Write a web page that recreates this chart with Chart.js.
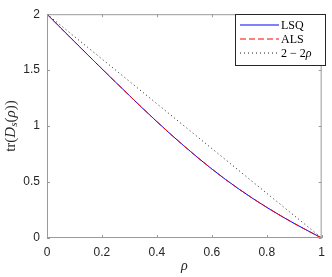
<!DOCTYPE html>
<html>
<head>
<meta charset="utf-8">
<script src="https://cdn.jsdelivr.net/npm/chart.js@4/dist/chart.umd.min.js"></script>
<style>
  html, body { margin: 0; padding: 0; background: #fff; }
  #wrap { width: 332px; height: 277px; }
</style>
</head>
<body>
<div id="wrap"><canvas id="myChart" width="332" height="277"></canvas></div>
<script>
// values
var rho = [0, 0.05, 0.1, 0.15, 0.2, 0.25, 0.3, 0.35, 0.4, 0.45, 0.5,
           0.55, 0.6, 0.65, 0.7, 0.75, 0.8, 0.85, 0.9, 0.95, 1];
var lsq = [2, 1.877, 1.755, 1.633, 1.512, 1.392, 1.273, 1.155, 1.04, 0.928, 0.82,
           0.716, 0.617, 0.523, 0.435, 0.352, 0.274, 0.2, 0.13, 0.064, 0];
var als = [2, 1.877, 1.755, 1.633, 1.512, 1.392, 1.273, 1.155, 1.04, 0.928, 0.82,
           0.716, 0.617, 0.523, 0.435, 0.352, 0.274, 0.2, 0.13, 0.064, 0];
var lineX = [0, 1];
var lineY = [2, 0];
var xTicks = [0, 0.2, 0.4, 0.6, 0.8, 1];
var yTicks = [0, 0.5, 1, 1.5, 2];

var colors = ['#0000ff', '#ff0000', '#222222'];
var dashes = [[], [6, 3], [1, 3]];
var axisColor = '#9a9a9a';
var textColor = '#262626';
var serif = '"Liberation Serif", "DejaVu Serif", serif';

function pts(xs, ys) {
    return xs.map(function(x, i) { return {x: x, y: ys[i]}; });
}

// box, inward ticks, legend and axis titles
var decor = {
    id: 'decor',
    afterDraw: function(chart) {
        var ctx = chart.ctx;
        var a = chart.chartArea;
        var xs = chart.scales.x, ys = chart.scales.y;
        ctx.save();
        ctx.strokeStyle = axisColor;
        ctx.lineWidth = 1;
        ctx.beginPath();
        ctx.moveTo(a.left, a.top + 0.5); ctx.lineTo(a.right, a.top + 0.5);
        ctx.moveTo(a.right - 0.5, a.top); ctx.lineTo(a.right - 0.5, a.bottom);
        ctx.moveTo(a.left + 0.5, a.top); ctx.lineTo(a.left + 0.5, a.bottom);
        ctx.moveTo(a.left, a.bottom - 0.5); ctx.lineTo(a.right, a.bottom - 0.5);
        xTicks.forEach(function(v) {
            var px = Math.round(xs.getPixelForValue(v)) + 0.5;
            ctx.moveTo(px, a.bottom); ctx.lineTo(px, a.bottom - 3);
            ctx.moveTo(px, a.top); ctx.lineTo(px, a.top + 3);
        });
        yTicks.forEach(function(v) {
            var py = Math.round(ys.getPixelForValue(v)) + 0.5;
            ctx.moveTo(a.left, py); ctx.lineTo(a.left + 3, py);
            ctx.moveTo(a.right, py); ctx.lineTo(a.right - 3, py);
        });
        ctx.stroke();

        // legend
        var lx = 235.5, ly = 14.5, lw = 90, lh = 51;
        ctx.fillStyle = '#fff';
        ctx.fillRect(lx, ly, lw, lh);
        ctx.strokeStyle = textColor;
        ctx.strokeRect(lx, ly, lw, lh);
        var rows = [25, 39, 53];
        rows.forEach(function(r, i) {
            ctx.strokeStyle = colors[i];
            ctx.lineWidth = 1;
            ctx.setLineDash(dashes[i]);
            ctx.beginPath();
            ctx.moveTo(240, r); ctx.lineTo(279, r);
            ctx.stroke();
        });
        ctx.setLineDash([]);
        ctx.fillStyle = '#000';
        ctx.textBaseline = 'middle';
        ctx.textAlign = 'left';
        ctx.font = '12px ' + serif;
        ctx.fillText('LSQ', 281, rows[0] + 0.5);
        ctx.fillText('ALS', 281, rows[1] + 0.5);
        var t = '2 \u2212 2';
        ctx.fillText(t, 281, rows[2] + 0.5);
        var w = ctx.measureText(t).width;
        ctx.font = 'italic 12px ' + serif;
        ctx.fillText('\u03c1', 281 + w, rows[2] + 0.5);

        // x title
        ctx.fillStyle = textColor;
        ctx.font = 'italic 14px ' + serif;
        ctx.textAlign = 'center';
        ctx.fillText('\u03c1', (a.left + a.right) / 2, 266);

        // y title: tr(D_s(rho))
        ctx.translate(11, (a.top + a.bottom) / 2);
        ctx.rotate(-Math.PI / 2);
        var parts = [
            {s: 'tr(', f: '15px ' + serif, dy: 0},
            {s: 'D', f: 'italic 15px ' + serif, dy: 0},
            {s: 's', f: 'italic 11px ' + serif, dy: 3},
            {s: '(', f: '15px ' + serif, dy: 0},
            {s: '\u03c1', f: 'italic 15px ' + serif, dy: 0},
            {s: '))', f: '15px ' + serif, dy: 0}
        ];
        var total = 0;
        parts.forEach(function(p) { ctx.font = p.f; total += ctx.measureText(p.s).width; });
        var cx = -total / 2;
        ctx.textAlign = 'left';
        parts.forEach(function(p) {
            ctx.font = p.f;
            ctx.fillText(p.s, cx, p.dy);
            cx += ctx.measureText(p.s).width;
        });
        ctx.restore();
    }
};

var config = {
    type: 'scatter',
    data: {
        datasets: [{
            label: 'LSQ',
            data: pts(rho, lsq),
            showLine: true,
            borderColor: colors[0],
            borderWidth: 1,
            pointRadius: 0,
            order: 1
        }, {
            label: 'ALS',
            data: pts(rho, als),
            showLine: true,
            borderColor: colors[1],
            borderWidth: 1,
            borderDash: dashes[1],
            pointRadius: 0,
            order: 0
        }, {
            label: '2-2rho',
            data: pts(lineX, lineY),
            showLine: true,
            borderColor: colors[2],
            borderWidth: 1,
            borderDash: dashes[2],
            pointRadius: 0,
            order: 2
        }]
    },
    options: {
        responsive: false,
        animation: false,
        layout: { padding: { top: 6, right: 3, left: 0, bottom: 0 } },
        plugins: { legend: { display: false }, tooltip: { enabled: false } },
        scales: {
            x: {
                type: 'linear', min: 0, max: 1,
                afterBuildTicks: function(s) { s.ticks = xTicks.map(function(v) { return {value: v}; }); },
                afterFit: function(s) { s.height = 39; },
                grid: { drawOnChartArea: false, drawTicks: false },
                border: { display: false },
                ticks: { color: textColor, padding: 7, maxRotation: 0,
                         font: { family: '"Liberation Sans", Arial, sans-serif', size: 12 },
                         callback: function(v) { return String(v); } }
            },
            y: {
                type: 'linear', min: 0, max: 2,
                afterBuildTicks: function(s) { s.ticks = yTicks.map(function(v) { return {value: v}; }); },
                afterFit: function(s) { s.width = 47; },
                grid: { drawOnChartArea: false, drawTicks: false },
                border: { display: false },
                ticks: { color: textColor, padding: 7,
                         font: { family: '"Liberation Sans", Arial, sans-serif', size: 12 },
                         callback: function(v) { return String(v); } }
            }
        }
    },
    plugins: [decor]
};

window.onload = function() {
    var ctx = document.getElementById('myChart').getContext('2d');
    window.myChart = new Chart(ctx, config);
};
</script>
</body>
</html>
